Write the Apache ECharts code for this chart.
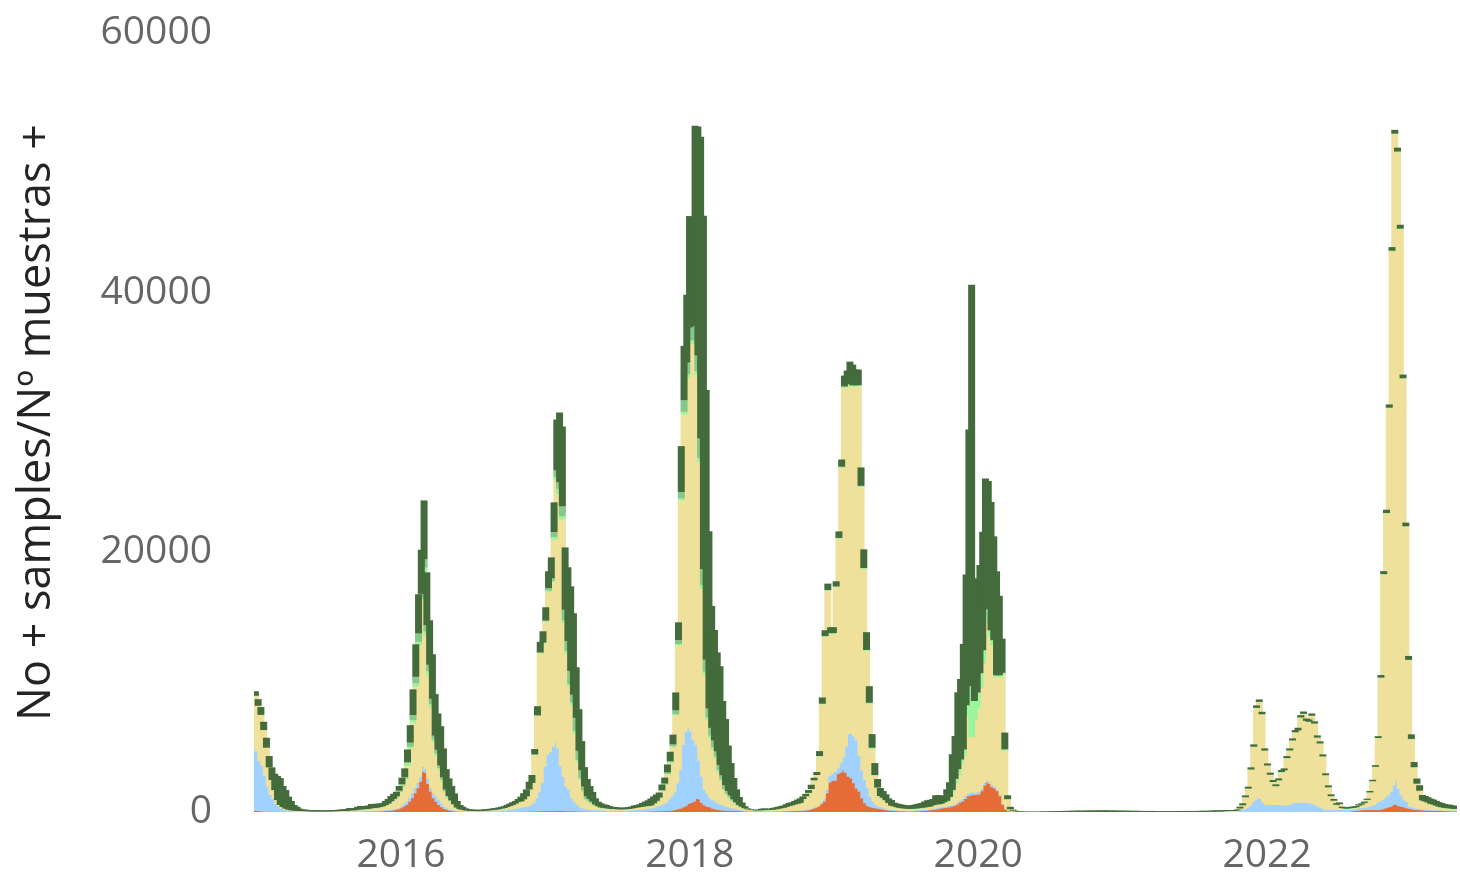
<!DOCTYPE html>
<html>
<head>
<meta charset="utf-8">
<title>No + samples / Nº muestras +</title>
<script src="https://cdn.jsdelivr.net/npm/echarts@6/dist/echarts.min.js"></script>
<style>
html, body { margin: 0; padding: 0; background: #fff; }
#chart { width: 1460px; height: 881px; }
</style>
</head>
<body>
<div id="chart"></div>
<script>
// one bar per epidemiological week, first week starts on Monday 2014-12-29
const firstWeek = Date.UTC(2014, 11, 29);
const weekMs = 7 * 24 * 3600 * 1000;

// positive samples per week and per group (bottom of the stack first)
const orange = [
  80,80,60,50,40,40,30,30,20,20,20,10,10,10,10,10,10,
  10,10,10,10,0,0,0,0,0,0,0,0,0,10,10,10,10,10,10,
  20,20,20,30,30,30,40,40,50,50,60,80,100,100,150,200,
  280,410,540,790,1050,1440,1820,2330,3100,3480,3020,2150,1560,1050,790,540,360,230,150,100,60,40,30,30,20,20,
  10,10,10,10,10,10,10,10,10,10,10,10,10,20,20,20,20,30,
  40,40,50,50,50,60,60,70,70,70,70,70,70,80,80,80,70,70,60,60,60,50,50,40,40,40,30,30,30,30,20,20,20,20,20,20,20,20,20,20,20,30,30,30,40,40,50,
  60,60,60,70,70,80,80,100,150,200,250,350,450,620,700,800,1000,1100,970,690,500,400,350,250,200,150,130,120,110,100,90,80,70,60,50,40,30,30,20,20,20,20,20,20,30,30,40,40,50,60,60,70,80,90,
  100,100,120,150,230,300,410,600,790,1430,2250,2410,2410,2920,3020,3180,3440,3020,2720,2590,2210,1800,1560,1050,670,460,360,300,280,250,200,150,130,100,80,70,60,60,50,50,50,60,60,70,80,100,120,
  150,150,200,250,300,300,350,400,450,540,700,800,1000,1200,1270,1300,1330,1350,1600,2020,2300,2420,2150,1900,1800,1600,1210,540,180,60,20,10,
  0,0,0,0,0,0,0,0,0,0, 0,0,0,0,0,0,0,0,0,0, 0,0,0,0,0,0,0,0,0,0, 0,0,0,0,0,0,0,0,0,0,
  0,0,0,0,0,0,0,0,0,0, 0,0,0,0,0,0,0,0,0,0, 0,0,0,0,0,0,0,0,0,0, 0,0,0,0,0,0,0,
  0,0,0,0,10,20,20,20,10,10,10,10,10,
  0,0,0,0,0,0,0,0,0,0, 0,0,0,0,0,0,0,0,0,0, 0,0,0,0,0,0,0,0,0,0,
  50,80,100,120,150,150,150,150,150,150,150,
  200,280,350,410,540,620,580,450,410,350,280,250,200,150,150,130,120,110,100,100,90,80,80,70,70,60,60,50
];
const blue = [
  4870,4560,3860,3490,2730,1910,1280,970,600,390,240,140,90,70,50,40,30,
  30,30,30,30,30,30,30,30,30,30,30,30,30,30,30,30,30,40,40,
  40,40,40,40,40,50,50,60,60,60,60,70,80,100,100,80,
  130,180,250,310,380,380,380,370,340,390,260,380,240,350,390,380,280,180,130,80,60,50,40,40,40,30,
  30,30,30,30,30,40,40,50,60,60,80,90,110,130,160,190,230,270,
  320,350,360,490,620,990,1510,2140,3420,4310,4570,4950,5260,5330,4820,3420,2630,1880,1640,990,730,490,310,240,160,140,130,120,110,100,100,90,90,80,80,80,80,80,90,100,110,120,130,150,160,180,200,
  240,290,390,430,530,620,890,1100,1350,2000,2990,4810,5750,5880,5800,5400,4500,4060,2970,2030,1220,1000,690,650,580,500,410,330,270,230,190,170,130,100,70,60,60,50,60,60,70,70,70,70,70,70,60,60,50,40,40,30,20,10,
  50,50,60,70,50,50,50,100,210,270,520,560,690,440,730,1030,1590,2980,3330,3460,3590,3700,2750,2130,1790,1360,820,490,260,150,160,150,70,80,70,70,60,50,50,50,50,50,60,60,70,70,80,
  100,100,100,100,100,120,100,100,100,110,150,200,200,200,230,450,170,150,150,180,150,130,150,150,150,100,90,60,40,20,10,10,
  10,10,10,10,10,10,10,10,10,10, 10,10,10,10,10,10,10,10,10,10, 10,10,10,10,10,10,10,10,10,10, 10,10,10,10,10,10,10,10,10,10,
  10,10,10,10,10,10,10,10,10,10, 10,10,10,10,10,10,10,10,10,10, 10,10,10,10,10,10,10,10,10,10, 20,20,30,30,40,40,50,
  50,50,60,150,190,280,430,680,890,1090,1120,990,690,550,540,540,540,540,550,500,520,600,700,720,720,720,720,720,700,650,600,500,400,300,200,150,150,150,150,150,150,150,150,130,120,150,180,150,200,260,300,390,550,650,
  720,820,930,1150,1510,2020,1820,1350,870,550,490,160,150,130,100,90,80,70,60,50,60,60,50,50,50,50,50,50
];
const khaki = [
  4000,3540,3560,2770,2180,1490,1150,690,300,130,120,110,80,60,50,50,40,
  30,30,20,20,20,20,20,20,20,20,20,30,30,30,40,40,50,60,60,
  60,90,110,110,130,140,170,180,190,240,280,350,420,580,700,870,
  1090,1360,1670,2440,3470,5080,7440,10150,12860,14590,10320,8010,6270,3980,3120,2310,1740,1130,800,610,420,210,130,80,60,50,
  40,40,30,30,40,50,60,70,80,100,120,150,170,220,270,320,370,450,
  430,560,770,1160,1530,3330,5810,9990,9480,10260,12310,12700,15640,20130,19610,19010,11860,10250,7940,7180,5260,3330,2100,1280,720,610,480,340,260,170,160,150,130,120,110,100,100,100,100,110,130,150,170,180,200,200,190,
  150,270,350,540,1000,1390,1920,2560,3480,5230,9600,18840,24420,26920,29530,30300,30530,28500,23020,14470,8850,5680,4640,3910,3340,2420,1830,1220,940,710,520,370,250,190,150,100,60,50,40,40,40,50,50,60,70,100,140,170,210,280,350,400,470,520,
  520,820,1000,1220,1460,2060,2360,3560,7280,11790,14260,10750,10620,13950,17280,22300,27640,26850,26950,26720,26970,27270,20710,15510,9920,6490,3670,1980,1280,780,690,570,470,280,260,210,180,160,150,130,130,130,140,150,150,160,160,
  150,250,240,210,200,280,350,580,950,1500,1950,2640,3110,6020,7000,4020,5650,6500,7790,9260,12160,12060,11160,10800,8430,8680,9220,4120,720,120,70,40,
  10,10,10,10,10,10,10,10,10,10, 10,10,10,10,10,10,10,10,10,10, 10,10,10,10,10,10,10,10,10,10, 10,10,10,10,10,10,10,10,10,10,
  10,10,10,10,10,10,10,10,10,10, 10,10,10,10,10,10,10,10,10,10, 10,10,10,10,10,10,10,10,10,10, 10,10,20,20,20,30,30,
  30,30,50,100,290,800,1320,2530,4090,6890,7320,6500,4000,3000,2300,1740,1420,1870,2470,2660,3590,4100,4780,5390,5530,6520,6810,6270,6220,6730,6180,5200,4850,3950,2600,1720,1050,700,380,450,140,100,100,100,100,100,170,240,320,490,1030,1800,2740,4860,
  9390,17180,21710,29530,41130,49550,48420,43080,32080,21060,10900,5170,3050,1850,1340,630,580,520,430,390,310,240,200,170,150,140,110,110
];
const paleGreen = [
  0,0,0,0,0,0,0,0,0,0,0,0,0,0,0,0,0,
  0,0,0,0,0,0,0,0,0,0,0,0,0,0,0,0,0,20,20,
  20,30,30,30,30,30,40,40,40,40,40,40,50,50,60,60,
  80,100,130,200,130,180,260,260,200,360,300,300,250,200,200,150,150,100,80,60,40,30,20,20,10,10,
  0,0,0,0,0,0,10,10,10,10,10,20,20,20,20,20,30,30,
  30,30,30,40,40,50,60,80,80,100,100,100,200,260,380,260,200,200,200,200,200,150,150,100,100,80,60,40,30,30,20,20,20,20,20,10,10,10,10,10,10,20,20,20,20,30,30,
  30,30,30,40,40,50,60,60,80,100,100,150,200,300,300,300,300,300,300,300,250,200,200,200,150,150,150,100,100,100,80,60,50,30,20,10,10,10,10,10,10,10,10,10,10,10,10,20,20,20,20,20,20,20,
  30,30,30,30,30,30,30,50,60,60,60,60,60,60,80,80,100,100,100,100,100,100,100,100,100,100,100,80,60,50,50,40,30,30,30,20,20,20,20,20,20,20,20,20,30,30,30,
  30,30,40,40,40,50,60,80,200,400,500,400,500,800,1200,5920,1400,1200,1150,1000,1080,1000,540,380,150,150,200,100,50,20,0,0,
  0,0,0,0,0,0,0,0,0,0, 0,0,0,0,0,0,0,0,0,0, 0,0,0,0,0,0,0,0,0,0, 0,0,0,0,0,0,0,0,0,0,
  0,0,0,0,0,0,0,0,0,0, 0,0,0,0,0,0,0,0,0,0, 0,0,0,0,0,0,0,0,0,0, 0,0,0,0,0,0,0,
  0,0,10,20,30,30,30,40,40,30,30,30,30,30,30,30,30,30,60,50,40,40,30,30,40,40,30,30,30,30,30,30,30,30,30,30,20,20,20,20,20,20,20,20,20,20,20,30,30,30,30,30,40,40,
  40,40,40,50,50,50,50,50,50,50,50,50,50,50,50,40,40,40,40,40,40,40,40,30,30,30,30,30
];
const midGreen = [
  0,0,0,0,0,0,0,0,0,0, 0,0,0,0,0,0,0,0,0,0, 0,0,0,0,0,0,0,0,0,0, 0,0,0,0,0,0,0,0,0,0, 0,0,0,0,0,0,0,0,0,0, 0,0,
  60,100,100,100,310,390,510,640,300,640,500,500,400,300,300,200,150,100,80,50,30,20,0,0,0,0,
  0,0,0,0,0,0,0,0,0,0, 0,0,0,0,0,0,0,0,0,0, 0,0,0,0,0,0,0,0,
  200,200,390,510,510,770,820,770,1030,600,1000,700,600,300,200,150,100,60,40,30,20,20,
  0,0,0,0,0,0,0,0,0,0,0,0,0,0,0,
  30,30,30,40,40,50,100,100,150,300,300,500,900,900,1000,1000,1100,1200,1500,1200,900,700,600,500,400,400,300,300,200,150,100,80,50,30,
  0,0,0,0,0,0,0,0,0,0, 0,0,0,0,0,0,0,0,0,0, 0,0,0,0,0,0,0,0,0,0, 0,0,0,0,0,0,0,0,0,0,
  0,0,0,0,0,0,0,0,0,0, 0,0,0,0,0,0,0,0,0,0, 0,0,0,0,0,0,0,0,0,0, 0,0,0,0,0,0,0,0,0,0,
  0,0,0,0,0,0,0,0,0,0, 0,0,0,0,0,0,0,0,0,0, 0,0,0,0,0,0,0,0,0,0, 0,0,0,0,0,0,0,0,0,0,
  0,0,0,0,0,0,0,0,0,0, 0,0,0,0,0,0,0,0,0,0, 0,0,0,0,0,0,0,0,0,0, 0,0,0,0,0,0,0,0,0,0,
  0,0,0,0,0,0,0,0,0,0, 0,0,0,0,0,0,0,0,0,0, 0,0,0,0,0,0,0,0,0,0, 0,0,0,0,0,0,0,0,0,0,
  0,0,0,0,0,0,0,0,0,0, 0,0,0,0,0,0,0,0,0,0, 0,0,0,0,0,0,0,0,0,0, 0,0,0,0,0,0,0,0,0,0,
  0,0,0,0,0,0,0,0,0,0, 0,0,0,0,0,0,0,0
];
const darkGreen = [
  350,510,600,640,770,870,980,1260,1850,2070,1620,1430,1000,710,430,310,180,
  130,110,100,90,90,80,80,70,70,70,80,80,90,100,110,120,130,170,170,
  160,220,260,250,240,250,320,300,300,260,250,310,350,400,390,350,
  360,490,670,980,1350,1980,2510,3020,3400,4540,4060,3430,3430,3200,2790,3030,2220,1560,1350,1100,820,500,320,240,150,90,
  120,100,100,100,100,100,100,110,120,120,130,130,140,160,180,200,200,220,
  360,470,530,590,610,420,710,820,870,1030,1290,1590,2290,3920,5370,6150,4800,5680,6510,6280,3900,3200,2250,1500,1320,980,740,460,320,310,270,240,200,160,150,140,120,120,130,140,150,180,190,220,280,350,430,
  530,520,490,380,440,460,610,720,750,1380,1370,3530,4180,5220,8570,7700,15420,17640,23240,27230,20790,13640,9390,8510,7620,7610,5730,5090,3500,2480,1640,980,600,320,160,70,40,40,40,50,110,130,100,90,120,140,150,160,170,200,230,230,260,310,
  350,200,190,220,330,200,230,380,480,450,500,450,450,400,500,560,840,1050,1590,1590,1210,1210,1420,1440,1370,1280,1050,920,660,620,520,450,350,430,280,280,280,270,250,250,250,290,320,350,370,440,510,
  510,470,710,690,650,460,890,1130,2750,3300,5920,6210,8140,10070,19770,28920,9450,7800,8330,9120,10000,9890,9880,8000,8010,6120,2630,1300,300,180,80,40,
  40,30,30,20,20,20,20,20,30,30, 30,40,40,50,50,60,60,60,70,70, 70,80,80,80,80,90,90,90,90,100, 100,100,100,90,90,90,80,80,80,80,
  70,70,70,70,60,60,60,60,60,60, 50,50,50,50,50,50,50,50,60,60, 60,60,60,60,60,60,70,70,70,70, 80,80,80,80,70,70,70,
  70,70,80,140,150,150,150,170,180,190,190,190,170,160,160,150,140,150,150,150,160,160,160,170,200,180,180,180,180,180,170,170,160,160,150,150,140,130,120,120,100,90,90,100,100,90,100,100,100,100,110,110,130,140,
  200,230,250,250,280,300,300,300,280,280,300,350,400,400,420,420,420,400,400,380,360,340,320,300,280,270,250,240
];

const yearTicks = [2016, 2018, 2020, 2022];
const yTicks = [0, 20000, 40000, 60000];

const groups = [
  { name: 'Grupo 1', color: '#E66C37', values: orange },
  { name: 'Grupo 2', color: '#A0D1FF', values: blue },
  { name: 'Grupo 3', color: '#EFE09B', values: khaki },
  { name: 'Grupo 4', color: '#9CF59C', values: paleGreen },
  { name: 'Grupo 5', color: '#86C78A', values: midGreen },
  { name: 'Grupo 6', color: '#446B3C', values: darkGreen }
];

// week start dates used as categories
const weeks = orange.map((v, i) => new Date(firstWeek + i * weekMs).toISOString().slice(0, 10));

const chart = echarts.init(document.getElementById('chart'));
chart.setOption({
  animation: false,
  backgroundColor: '#ffffff',
  grid: { left: 254, right: 3, top: 33, bottom: 69 },
  xAxis: [
    {
      type: 'category',
      data: weeks,
      axisLine: { show: false },
      axisTick: { show: false },
      axisLabel: { show: false },
      splitLine: { show: false }
    },
    {
      // calendar scale that only carries the year labels
      type: 'value',
      position: 'bottom',
      min: Date.UTC(2014, 11, 24, 22),
      max: Date.UTC(2023, 3, 26, 22),
      axisLine: { show: false },
      axisTick: { show: false },
      splitLine: { show: false },
      axisLabel: {
        customValues: yearTicks.map(y => Date.UTC(y, 0, 1)),
        formatter: v => String(new Date(v).getUTCFullYear()),
        color: '#666666',
        fontFamily: 'Open Sans',
        fontSize: 39,
        margin: 24
      }
    }
  ],
  yAxis: {
    type: 'value',
    min: yTicks[0],
    max: yTicks[yTicks.length - 1],
    interval: 20000,
    name: 'No + samples/Nº muestras +',
    nameLocation: 'middle',
    nameGap: 194,
    nameTextStyle: { color: '#252423', fontFamily: 'Open Sans', fontSize: 45 },
    axisLine: { show: false },
    axisTick: { show: false },
    splitLine: { show: false },
    axisLabel: {
      formatter: v => String(v),
      color: '#666666',
      fontFamily: 'Open Sans',
      fontSize: 39,
      margin: 42
    }
  },
  series: groups.map(g => ({
    name: g.name,
    type: 'bar',
    stack: 'muestras',
    xAxisIndex: 0,
    barWidth: 7,
    itemStyle: { color: g.color },
    data: g.values
  }))
});
</script>
</body>
</html>
